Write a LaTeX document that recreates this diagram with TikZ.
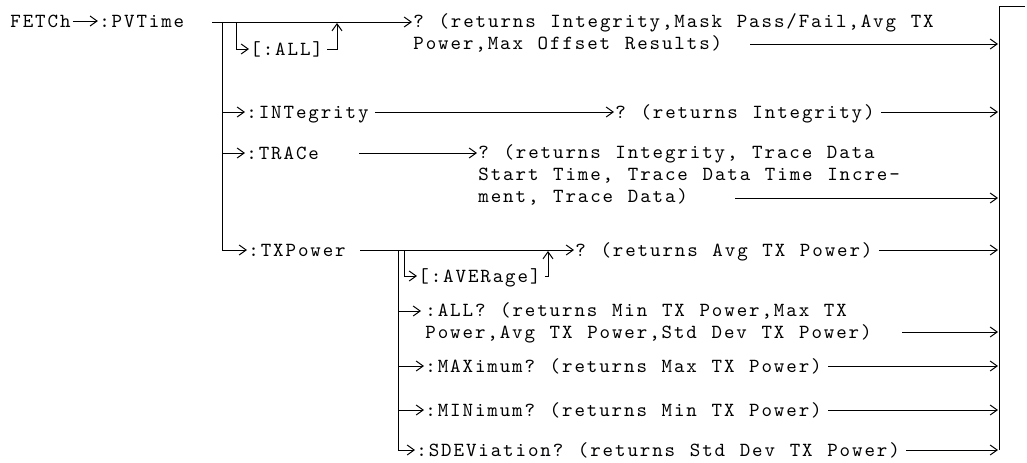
\documentclass[tikz,border=0pt]{standalone}
\usepackage{fontspec}
\setmonofont{lmmono10-regular.otf}[LetterSpace=9.5,WordSpace=1.181]
\usepackage{tikz}
\usetikzlibrary{arrows.meta,positioning,calc}
\tikzset{
  cmd/.style={inner sep=0pt,anchor=west,text height=6pt,text depth=0pt},
  resp/.style={inner sep=0pt,anchor=north west,align=left},
  wire/.style={draw=black,line width=0.5pt},
  arr/.style={wire,-{Straight Barb[length=3.5pt,width=5pt]},shorten >=0.5pt},
  tobar/.style={arr,shorten <=3pt}
}

\begin{document}
\begin{tikzpicture}[x=0.5pt,y=-0.5pt,font=\fontsize{10pt}{11pt}\selectfont\ttfamily]
  \useasboundingbox (0,0) rectangle (1027,462);
  \coordinate (bar) at (999,6);
  \coordinate (barend) at (999,450);

  \node[cmd] (fetch) at (10,21) {FETCh};
  \node[cmd,right=14pt of fetch] (pvtime) {:PVTime};
  \coordinate (pv) at (212,22);
  \coordinate (trunk) at (222,22);
  \coordinate (allby) at (236,22);
  \coordinate (allup) at (337,22);
  \node[cmd] (optall) at (250,49) {[:ALL]};
  \node[resp] (ret1) at (413,13) {? (returns Integrity,Mask Pass/Fail,Avg TX\\Power,Max Offset Results)};
  \coordinate (ret1out) at (750,44);

  \node[cmd] (integ) at (246,112) {:INTegrity};
  \node[cmd] (ret2) at (615,112) {? (returns Integrity)};

  \node[cmd] (trace) at (246,153) {:TRACe};
  \coordinate (tracein) at (359,153);
  \node[resp] (ret3) at (478,144) {? (returns Integrity, Trace Data\\Start Time, Trace Data Time Incre-\\ment, Trace Data)};
  \coordinate (ret3out) at (735,198);

  \node[cmd] (txp) at (248,250) {:TXPower};
  \coordinate (txpin) at (360,250);
  \coordinate (sub) at (398,250);
  \coordinate (avgby) at (404,250);
  \coordinate (avgup) at (548,250);
  \node[cmd] (ret4) at (575,250) {? (returns Avg TX Power)};
  \node[cmd] (avg) at (418,276) {[:AVERage]};
  \node[resp] (allq) at (425,302) {:ALL? (returns Min TX Power,Max TX\\Power,Avg TX Power,Std Dev TX Power)};
  \coordinate (allqin) at (422,311);
  \coordinate (allqout) at (902,332);
  \node[cmd] (maxq) at (425,366) {:MAXimum? (returns Max TX Power)};
  \node[cmd] (minq) at (425,410) {:MINimum? (returns Min TX Power)};
  \node[cmd] (sdev) at (416,450) {:SDEViation? (returns Std Dev TX Power)};

  \draw[arr,shorten <=1pt] (fetch.east) -- (pvtime.west);
  \draw[arr] (pv) -- (ret1.north west |- pv);
  \draw[arr] (trunk) |- (txp.west);
  \draw[arr] (trunk |- integ.west) -- (integ.west);
  \draw[arr] (trunk |- trace.west) -- (trace.west);
  \draw[arr] (allby) |- (optall.west);
  \draw[arr,shorten <=2pt] (optall.east) -| (allup);
  \draw[arr] (ret1out) -- (ret1out -| bar);
  \draw[tobar] (integ.east) -- (ret2.west);
  \draw[tobar] (ret2.east) -- (ret2.east -| bar);
  \draw[arr] (tracein) -- (ret3.north west |- tracein);
  \draw[arr] (ret3out) -- (ret3out -| bar);
  \draw[arr] (txpin) -- (ret4.west);
  \draw[tobar] (ret4.east) -- (ret4.east -| bar);
  \draw[arr] (sub) |- (sdev.west);
  \draw[arr] (sub |- allqin) -- (allqin);
  \draw[arr] (sub |- maxq.west) -- (maxq.west);
  \draw[arr] (sub |- minq.west) -- (minq.west);
  \draw[arr] (avgby) |- (avg.west);
  \draw[arr,shorten <=2pt] (avg.east) -| (avgup);
  \draw[arr] (allqout) -- (allqout -| bar);
  \draw[tobar] (maxq.east) -- (maxq.east -| bar);
  \draw[tobar] (minq.east) -- (minq.east -| bar);
  \draw[tobar] (sdev.east) -- (sdev.east -| bar);
  \draw[wire] ([xshift=13pt]bar) -- (bar) -- (barend);
\end{tikzpicture}
\end{document}
